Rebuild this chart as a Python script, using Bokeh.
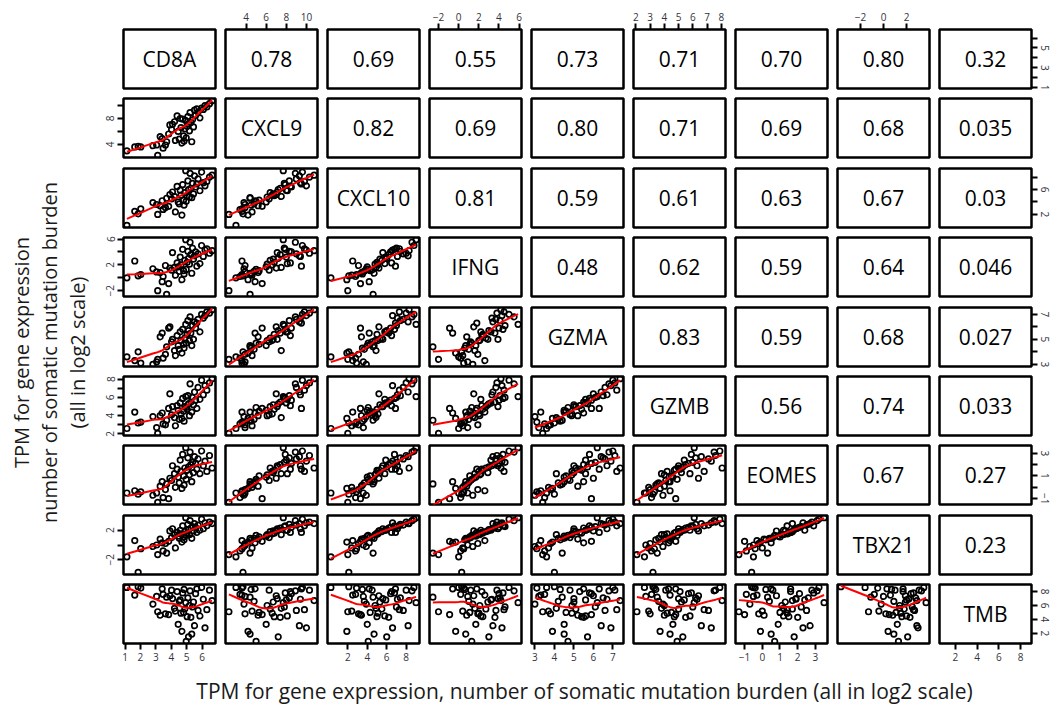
import numpy as np
from bokeh.plotting import figure
from bokeh.layouts import row, column
from bokeh.models import Range1d, LinearAxis, FixedTicker
from bokeh.embed import file_html
from bokeh.resources import INLINE
from bokeh.core.properties import value

names = ["CD8A", "CXCL9", "CXCL10", "IFNG", "GZMA", "GZMB", "EOMES", "TBX21", "TMB"]

CD8A = [1.12, 1.63, 1.85, 2.02, 2.81, 3.05, 3.12, 3.28, 3.41, 3.47, 3.62, 3.70, 3.83, 3.91, 4.02, 4.08, 4.21,
        4.27, 4.38, 4.45, 4.52, 4.58, 4.63, 4.69, 4.74, 4.80, 4.83, 4.88, 4.94, 4.97, 5.03, 5.08, 5.12, 5.18,
        5.22, 5.27, 5.33, 5.38, 5.44, 5.51, 5.58, 5.66, 5.74, 5.86, 5.97, 6.08, 6.19, 6.31, 6.48, 6.65]
CXCL9 = [3.0, 3.6, 3.7, 3.6, 3.8, 3.9, 2.3, 5.2, 4.9, 3.4, 3.9, 4.4, 5.6, 7.0, 6.3, 7.1, 7.5, 4.6, 8.4, 6.0,
         4.8, 8.0, 6.6, 4.2, 7.9, 5.3, 4.5, 6.4, 7.7, 5.0, 6.8, 8.3, 7.2, 6.1, 8.9, 7.4, 4.4, 7.8, 6.7, 9.3,
         8.5, 9.5, 9.0, 8.1, 9.6, 9.4, 10.0, 9.8, 10.3, 10.76]
CXCL10 = [0.26, 2.5, 2.1, 2.9, 3.9, 3.6, 2.0, 3.4, 4.2, 2.8, 3.1, 4.6, 3.3, 5.2, 4.5, 5.6, 4.9, 2.4, 6.5, 4.0,
          3.7, 5.9, 5.1, 1.9, 6.8, 4.3, 3.5, 5.5, 9.02, 4.1, 5.0, 7.4, 6.0, 4.8, 8.6, 6.2, 4.7, 7.0, 5.3, 8.2,
          6.4, 6.9, 7.7, 5.8, 8.8, 7.1, 6.6, 7.3, 8.0, 8.3]
IFNG = [0.0, 2.6, 0.3, 0.5, 1.4, 0.9, -2.0, 0.8, -0.6, 0.2, 1.9, -2.56, -0.9, 1.5, 1.2, 3.9, 1.6, 0.4, 2.3, 1.7,
        1.0, 3.2, 2.0, -0.3, 4.4, 1.1, 0.6, 2.7, 5.9, 1.3, 2.4, 4.1, 3.0, 2.1, 5.5, 3.6, 0.7, 4.6, 2.9, 3.4,
        4.0, 1.8, 3.7, 2.2, 5.0, 3.3, 4.3, 4.5, 3.8, 4.2]
GZMA = [3.6, 3.3, 4.0, 3.1, 3.0, 3.2, 3.4, 5.2, 5.5, 3.5, 3.8, 4.4, 5.9, 6.0, 4.8, 5.0, 4.1, 3.7, 5.3, 4.5,
        4.2, 5.6, 4.9, 3.9, 5.8, 4.6, 4.3, 5.1, 6.2, 4.7, 5.4, 6.5, 5.7, 4.9, 6.8, 5.5, 4.5, 6.1, 5.0, 6.4,
        5.9, 6.3, 6.6, 5.6, 7.0, 6.7, 6.9, 7.2, 7.1, 7.37]
GZMB = [2.6, 4.4, 3.2, 3.3, 3.9, 2.7, 2.07, 4.0, 4.3, 3.1, 3.0, 3.5, 4.8, 6.4, 4.1, 5.0, 3.8, 2.9, 5.1, 4.6,
        3.6, 5.4, 4.2, 3.7, 5.9, 4.5, 3.4, 5.0, 6.1, 4.9, 4.7, 6.2, 5.3, 4.0, 7.5, 5.5, 4.4, 6.0, 5.2, 6.6,
        5.7, 4.8, 7.1, 5.8, 7.9, 6.3, 7.3, 6.8, 7.6, 8.06]
EOMES = [-0.5, -0.3, -0.6, -0.4, -0.7, -0.5, -1.32, 0.1, 0.5, -0.9, -0.2, 0.3, -1.0, 0.8, 0.6, 1.9, 1.2, 0.0,
         1.6, 0.9, 0.4, 2.4, 1.4, -0.1, 2.9, 1.0, 0.2, 1.7, 3.49, 0.7, 1.5, 2.6, 1.8, 1.1, 3.1, 2.0, 0.5, 2.2,
         1.3, 2.7, 2.1, 1.6, 2.5, 1.2, 3.2, 1.9, 2.3, 1.4, 2.8, 1.7]
TBX21 = [-1.6, 0.6, -3.7, -0.5, -0.2, 0.0, -1.3, 0.8, 0.3, -0.8, 0.2, -1.1, 0.5, 1.9, 1.0, 2.2, 1.4, -0.4, 1.7,
         1.2, 0.9, 2.0, 1.5, 0.4, 2.6, 1.1, 0.7, 1.8, 3.7, 1.3, 1.6, 2.8, 2.1, 1.4, 3.3, 2.3, 0.9, 2.5, 1.9, 2.9,
         2.4, 1.7, 2.7, 2.0, 3.5, 2.2, 3.0, 2.6, 3.1, 2.9]
TMB = [8.6, 7.5, 8.7, 8.5, 6.2, 7.3, 5.1, 4.6, 8.4, 7.6, 4.8, 7.2, 4.7, 7.4, 8.2, 7.0, 5.6, 5.2, 8.0, 3.3,
       6.6, 6.8, 4.9, 2.3, 7.8, 5.0, 8.3, 5.5, 6.4, 0.86, 4.4, 7.1, 1.5, 6.0, 8.1, 4.3, 1.9, 5.8, 6.5, 3.1,
       7.7, 8.4, 5.3, 4.5, 8.6, 6.9, 2.8, 5.4, 8.2, 6.7]

data = [CD8A, CXCL9, CXCL10, IFNG, GZMA, GZMB, EOMES, TBX21, TMB]

# correlation labels for the upper triangle, row by row
corr_rows = [
    ["0.78", "0.69", "0.55", "0.73", "0.71", "0.70", "0.80", "0.32"],
    ["0.82", "0.69", "0.80", "0.71", "0.69", "0.68", "0.035"],
    ["0.81", "0.59", "0.61", "0.63", "0.67", "0.03"],
    ["0.48", "0.62", "0.59", "0.64", "0.046"],
    ["0.83", "0.59", "0.68", "0.027"],
    ["0.56", "0.74", "0.033"],
    ["0.67", "0.27"],
    ["0.23"],
]

# axis ticks per variable, and which labels are shown on the side (rotated) axes
ticks = [
    [1, 2, 3, 4, 5, 6],
    [4, 6, 8, 10],
    [2, 4, 6, 8],
    [-2, 0, 2, 4, 6],
    [3, 4, 5, 6, 7],
    [2, 3, 4, 5, 6, 7, 8],
    [-1, 0, 1, 2, 3],
    [-2, 0, 2],
    [2, 4, 6, 8],
]
v_labels = [
    [1, 3, 5],
    [4, 8],
    [2, 6],
    [-2, 2, 6],
    [3, 5, 7],
    [2, 4, 6, 8],
    [-1, 1, 3],
    [-2, 2],
    [2, 4, 6, 8],
]

x_title = "TPM for gene expression, number of somatic mutation burden (all in log2 scale)"
ytitle_lines = ["TPM for gene expression", "number of somatic mutation burden", "(all in log2 scale)"]


def lowess(x, y, f=2 / 3, iters=3):
    x = np.asarray(x, float)
    y = np.asarray(y, float)
    o = np.argsort(x, kind="stable")
    x, y = x[o], y[o]
    n = len(x)
    ns = max(min(int(round(f * n)), n), 2)
    rw = np.ones(n)
    ys = np.zeros(n)
    rng = x[-1] - x[0]
    for it in range(iters + 1):
        for i in range(n):
            d = np.abs(x - x[i])
            h = max(np.sort(d)[ns - 1], 1e-12)
            r = d / h
            w = np.where(r <= 0.001, 1.0, np.where(r < 0.999, (1 - r ** 3) ** 3, 0.0)) * rw
            sw = w.sum()
            if sw <= 0:
                ys[i] = y[i]
                continue
            w = w / sw
            xm = (w * x).sum()
            c = (w * (x - xm) ** 2).sum()
            if np.sqrt(c) > 0.001 * rng:
                b = (w * (x - xm) * y).sum() / c
                ys[i] = (w * y).sum() + b * (x[i] - xm)
            else:
                ys[i] = (w * y).sum()
        if it == iters:
            break
        res = y - ys
        cmad = 6 * np.median(np.abs(res))
        if cmad < 1e-7:
            break
        rr = np.abs(res) / cmad
        rw = np.where(rr < 1, (1 - rr ** 2) ** 2, 0.0)
    return x, ys


def fmt(t):
    return str(t).replace("-", "\u2212")


ranges_x = []
ranges_y = []
for v in data:
    lo, hi = min(v), max(v)
    pad = 0.04 * (hi - lo)
    ranges_x.append(Range1d(lo - pad, hi + pad))
    ranges_y.append(Range1d(lo - pad, hi + pad))

N = len(names)
FW, FH = 92, 59
TICK_COLOR = "#333340"
FONT = "Open Sans"

top_b = [29, 5, 6, 5, 6, 5, 5, 6, 5]
bot_b = [5, 5, 5, 5, 5, 5, 5, 5, 27]
left_b = [31] + [5] * 8
right_b = [5] * 8 + [21]


def make_axis(var, rotated, size):
    tk = ticks[var]
    shown = v_labels[var] if rotated else tk
    ax = LinearAxis(ticker=FixedTicker(ticks=tk, minor_ticks=[]))
    ax.major_label_overrides = {t: (fmt(t) if t in shown else "") for t in tk}
    ax.axis_line_color = None
    ax.major_tick_in = 0
    ax.major_tick_out = 6
    ax.major_tick_line_width = 2
    ax.major_tick_line_color = "black"
    ax.minor_tick_out = 0
    ax.minor_tick_in = 0
    ax.major_label_standoff = 3
    ax.major_label_text_font = FONT
    ax.major_label_text_font_size = size
    ax.major_label_text_color = TICK_COLOR
    if rotated:
        ax.major_label_orientation = "vertical"
    return ax


rows = []
for i in range(N):
    figs = []
    for j in range(N):
        p = figure(frame_width=FW, frame_height=FH, x_range=ranges_x[j], y_range=ranges_y[i],
                   x_axis_location=None, y_axis_location=None, toolbar_location=None,
                   output_backend="svg", min_border_left=left_b[j], min_border_right=right_b[j],
                   min_border_top=top_b[i], min_border_bottom=bot_b[i])
        p.grid.grid_line_color = None
        p.outline_line_color = "black"
        p.outline_line_width = 2.5
        p.outline_line_alpha = 1.0
        p.background_fill_color = "white"
        p.border_fill_color = "white"
        xr, yr = ranges_x[j], ranges_y[i]
        cx = (xr.start + xr.end) / 2
        cy = (yr.start + yr.end) / 2
        if i == j:
            p.text(x=[cx], y=[cy], text=[names[i]], text_align="center", text_baseline="middle",
                   text_font=value(FONT), text_font_size="21px", text_color="black")
        elif j > i:
            p.text(x=[cx], y=[cy], text=[corr_rows[i][j - i - 1]], text_align="center",
                   text_baseline="middle", text_font=value(FONT), text_font_size="21px",
                   text_color="black")
        else:
            p.scatter(x=data[j], y=data[i], marker="circle", size=5.5, fill_color=None,
                      line_color="black", line_width=1.7)
            lx, ly = lowess(data[j], data[i])
            p.line(x=lx, y=ly, line_color="red", line_width=2)
        # outer axes, alternating as in R's pairs()
        if i == 0 and j % 2 == 1:
            p.add_layout(make_axis(j, False, "10px"), "above")
        if i == N - 1 and j % 2 == 0:
            p.add_layout(make_axis(j, False, "10px"), "below")
        if j == 0 and i % 2 == 1:
            p.add_layout(make_axis(i, True, "10px"), "left")
        if j == N - 1 and i % 2 == 0:
            p.add_layout(make_axis(i, True, "10px"), "right")
        figs.append(p)
    rows.append(row(*figs))

yt_w = 92
grid_w = sum(left_b) + sum(right_b) + FW * N
grid_h = sum(top_b) + sum(bot_b) + FH * N
xt_h = 36
total_h = grid_h + xt_h

xt = figure(frame_width=grid_w, frame_height=xt_h, x_range=Range1d(yt_w, yt_w + grid_w),
            y_range=Range1d(total_h, grid_h), x_axis_location=None, y_axis_location=None,
            toolbar_location=None, output_backend="svg",
            min_border_left=0, min_border_right=0, min_border_top=0, min_border_bottom=0)
xt.grid.grid_line_color = None
xt.outline_line_color = None
xt.text(x=[584], y=[690], text=[x_title], text_align="center", text_baseline="middle",
        text_font=value(FONT), text_font_size="21px", text_color="#1a1a1a")

yt = figure(frame_width=yt_w, frame_height=total_h, x_range=Range1d(0, yt_w), y_range=Range1d(total_h, 0),
            x_axis_location=None, y_axis_location=None, toolbar_location=None, output_backend="svg",
            min_border_left=0, min_border_right=0, min_border_top=0, min_border_bottom=0)
yt.grid.grid_line_color = None
yt.outline_line_color = None
yt.text(x=[21, 49, 77], y=[352, 352, 352], text=ytitle_lines, angle=np.pi / 2,
        text_align="center", text_baseline="middle", text_font=value(FONT), text_font_size="20px",
        text_color="#1a1a1a")

layout = row(yt, column(*rows, xt))
open("out.html", "w").write(file_html(layout, INLINE))
